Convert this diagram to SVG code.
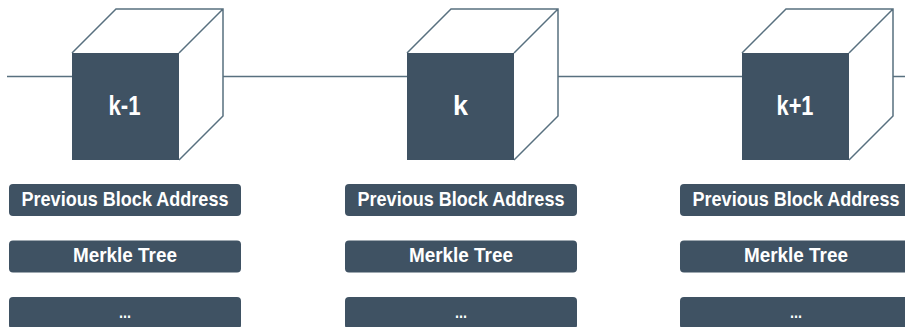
<svg xmlns="http://www.w3.org/2000/svg" width="905" height="327" viewBox="0 0 905 327">
<defs>
<style>
.ln{fill:none;stroke:#58707f;stroke-width:1.5}
.front{fill:#3f5263}
.bar{fill:#3f5263}
.t{font-family:"Liberation Sans",Arial,sans-serif;font-weight:700;fill:#fff;text-anchor:middle}
.k{font-size:27px}
.b{font-size:21px}
.d{font-size:16px}
</style>
<g id="cube"><path class="ln" d="M0 0L44-44H151V63L107 107M107 0L151-44"/><rect class="front" width="107" height="107"/></g>
</defs>
<rect width="905" height="327" fill="#fff"/>
<g id="connectors">
<path class="ln" d="M7 76.500H72M223 76.500H407M558 76.500H742M893 76.500H905"/>
</g>
<g id="block-k-1">
<use href="#cube" x="72" y="53"/>
<text class="t k" x="124.500" y="114.500" textLength="32" lengthAdjust="spacingAndGlyphs">k-1</text>
<rect class="bar" x="9" y="184" width="232" height="32" rx="4"/>
<text class="t b" x="125" y="205.500" textLength="207" lengthAdjust="spacingAndGlyphs">Previous Block Address</text>
<rect class="bar" x="9" y="240.500" width="232" height="32" rx="4"/>
<text class="t b" x="125" y="261.500" textLength="104" lengthAdjust="spacingAndGlyphs">Merkle Tree</text>
<rect class="bar" x="9" y="297" width="232" height="32" rx="4"/>
<text class="t d" x="125" y="318" textLength="12" lengthAdjust="spacingAndGlyphs">...</text>
</g>
<g id="block-k">
<use href="#cube" x="407" y="53"/>
<text class="t k" x="460.500" y="114.500">k</text>
<rect class="bar" x="345" y="184" width="232" height="32" rx="4"/>
<text class="t b" x="461" y="205.500" textLength="207" lengthAdjust="spacingAndGlyphs">Previous Block Address</text>
<rect class="bar" x="345" y="240.500" width="232" height="32" rx="4"/>
<text class="t b" x="461" y="261.500" textLength="104" lengthAdjust="spacingAndGlyphs">Merkle Tree</text>
<rect class="bar" x="345" y="297" width="232" height="32" rx="4"/>
<text class="t d" x="461" y="318" textLength="12" lengthAdjust="spacingAndGlyphs">...</text>
</g>
<g id="block-k1">
<use href="#cube" x="742" y="53"/>
<text class="t k" x="795" y="114.500" textLength="37" lengthAdjust="spacingAndGlyphs">k+1</text>
<rect class="bar" x="680" y="184" width="232" height="32" rx="4"/>
<text class="t b" x="796" y="205.500" textLength="207" lengthAdjust="spacingAndGlyphs">Previous Block Address</text>
<rect class="bar" x="680" y="240.500" width="232" height="32" rx="4"/>
<text class="t b" x="796" y="261.500" textLength="104" lengthAdjust="spacingAndGlyphs">Merkle Tree</text>
<rect class="bar" x="680" y="297" width="232" height="32" rx="4"/>
<text class="t d" x="796" y="318" textLength="12" lengthAdjust="spacingAndGlyphs">...</text>
</g>
</svg>
